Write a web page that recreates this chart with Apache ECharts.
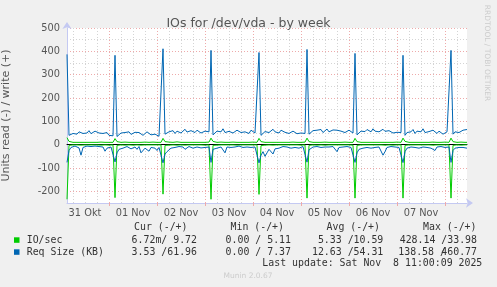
<!DOCTYPE html>
<html><head><meta charset="utf-8">
<script src="https://cdn.jsdelivr.net/npm/echarts@6/dist/echarts.min.js"></script>
<style>html,body{margin:0;padding:0;background:#f0f0f0}#c{width:497px;height:287px}</style>
</head><body><div id="c"></div>
<script>
// x axis: hourly samples starting Oct 31 03:00, index 0..200
const dayLabels = ['31 Okt','01 Nov','02 Nov','03 Nov','04 Nov','05 Nov','06 Nov','07 Nov'];
const yTicks = [-200,-100,0,100,200,300,400,500];

// IO/sec write (+)
const ioWrite = [
30,14,10,10,11,10,10,10,11,10,10,10,11,10,10,10,10,11,10,10,10,10,11,10,
26,13,10,10,10,11,10,10,10,10,11,10,10,10,10,11,10,10,10,11,10,10,10,10,
27,13,10,11,10,10,10,12,10,10,10,10,11,10,10,10,10,10,11,10,10,10,10,11,
28,14,10,10,10,11,10,10,10,10,10,11,10,10,10,10,11,10,10,10,10,11,10,10,
27,13,11,10,10,10,11,10,10,10,10,10,11,10,10,10,10,11,10,10,10,10,10,11,
28,13,10,10,11,10,10,10,10,11,10,10,10,10,11,10,10,10,10,11,10,10,10,10,
27,13,10,10,10,10,11,10,10,10,11,10,10,10,10,10,11,10,10,10,10,11,10,10,
28,14,10,10,11,10,10,10,10,10,11,10,10,10,10,11,10,10,10,10,10,11,10,10,
28,13,10,10,10,11,10,10,10];
// IO/sec read (-), magnitudes
const ioRead = [
234,3,2,1,2,1,1,2,1,1,2,1,1,1,2,1,1,2,1,1,1,2,1,1,
227,3,2,1,1,2,1,1,1,2,1,1,1,2,1,1,2,1,1,1,2,1,1,1,
212,3,2,2,1,1,1,2,1,1,1,2,1,1,1,1,2,1,1,1,1,2,1,1,
234,3,1,2,1,1,2,1,1,1,2,1,1,2,1,1,1,1,2,1,1,1,2,1,
213,4,3,2,2,1,1,2,1,1,1,1,2,1,1,1,2,1,1,1,1,2,1,1,
229,3,2,1,1,2,1,1,1,2,1,1,1,1,2,1,1,1,2,1,1,1,1,2,
229,3,2,1,2,1,1,1,2,1,1,1,2,1,3,2,1,1,1,2,1,1,1,1,
229,3,2,1,1,1,2,1,1,1,2,1,1,1,1,2,1,1,1,1,2,1,1,1,
229,3,2,1,1,2,1,1,1];
// Req Size (KB) write (+)
const reqWrite = [
387,40,35,48,50,45,55,52,48,56,50,60,47,52,58,62,50,55,48,45,52,40,42,38,
383,35,38,50,46,52,48,55,44,50,53,47,52,45,40,48,55,50,42,38,45,40,36,42,
411,45,38,55,52,60,48,58,62,50,55,66,54,48,60,57,52,62,55,50,45,58,62,55,
404,42,50,58,62,55,68,52,60,57,64,50,55,62,58,52,60,55,50,48,62,56,50,45,
395,40,48,56,62,52,58,66,55,60,50,62,57,53,60,48,55,58,52,47,55,50,45,48,
408,45,52,60,55,62,58,65,52,60,67,55,60,63,57,62,55,58,60,52,56,62,55,50,
391,42,50,58,62,56,65,60,55,68,58,62,55,60,66,57,52,60,55,50,58,53,48,52,
383,40,52,60,55,65,48,58,62,55,68,52,60,56,50,62,55,48,58,52,45,50,55,48,
404,45,55,60,52,58,62,55,65];
// Req Size (KB) read (-), magnitudes
const reqRead = [
76,25,12,8,6,10,14,45,12,8,6,10,8,12,6,10,8,14,10,28,15,8,10,12,
74,35,20,12,15,10,8,12,18,14,10,20,8,35,30,15,22,28,12,10,15,25,12,18,
78,40,30,22,15,18,12,10,8,15,10,20,12,8,10,15,12,10,8,14,10,12,8,10,
76,20,12,15,8,10,12,35,10,8,12,15,10,8,6,10,12,8,10,15,12,8,10,12,
78,45,30,50,35,20,28,40,18,12,15,10,8,12,10,8,15,10,12,20,15,10,8,12,
75,22,15,10,12,8,10,12,8,10,15,10,12,8,10,30,12,8,10,12,8,10,12,10,
76,35,20,12,15,10,12,8,15,10,12,8,10,15,45,30,12,10,8,12,10,15,12,8,
77,30,15,12,10,8,12,10,15,12,10,8,12,10,15,12,25,10,12,8,10,12,15,10,
76,25,15,10,12,8,12,10,15];

const cats = ioWrite.map((_, i) => String(i));
const GREEN = '#00cc00', BLUE = '#0066b3';
const MINOR = '#d4d4d4', MAJOR = '#eeaaaa', AXIS = '#c4c9f2';
const FONT = 'DejaVu Sans', MONO = 'DejaVu Sans Mono';

const chart = echarts.init(document.getElementById('c'), null, {renderer: 'canvas'});
const baseX = {type: 'category', data: cats, boundaryGap: false, position: 'bottom', gridIndex: 0};
const neg = a => a.map(v => -v);
const lineS = (name, data, color) => ({
  name, type: 'line', data, showSymbol: false, symbol: 'none', silent: true,
  lineStyle: {color, width: 1}, itemStyle: {color}, animation: false, z: 3
});
const txt = (text, x, y, align, opt) => Object.assign({
  type: 'text', x, y, silent: true,
  style: {text, fill: '#333', font: '9.9px ' + MONO, align, verticalAlign: 'middle'}
}, opt || {});

chart.setOption({
  backgroundColor: '#f0f0f0',
  animation: false,
  title: {text: 'IOs for /dev/vda - by week', left: 'center', top: 12,
    textStyle: {fontFamily: FONT, fontSize: 12.5, fontWeight: 'normal', color: '#555'}},
  grid: {left: 67, right: 30, top: 28, bottom: 84, show: true, backgroundColor: '#ffffff', borderWidth: 0,
    containLabel: false, outerBoundsMode: 'none'},
  xAxis: [
    Object.assign({}, baseX, {
      axisLine: {onZero: false, lineStyle: {color: AXIS, width: 1}, symbol: ['none', 'arrow'], symbolSize: [7, 7], symbolOffset: [0, 6]},
      axisTick: {show: false},
      axisLabel: {interval: (i) => (i + 3) % 24 === 12, margin: 5, fontFamily: FONT, fontSize: 9.8, color: '#555',
        formatter: (v, i) => dayLabels[Math.round((+v + 3 - 12) / 24)] || ''},
      splitLine: {show: true, interval: (i) => (i + 3) % 6 === 0 && (i + 3) % 24 !== 0,
        lineStyle: {color: MINOR, type: [1, 2], width: 1}}
    }),
    Object.assign({}, baseX, {
      axisLine: {show: false, onZero: false},
      axisTick: {show: true, interval: (i) => (i + 3) % 24 === 0, length: 3, lineStyle: {color: MAJOR}},
      axisLabel: {show: false},
      splitLine: {show: true, interval: (i) => (i + 3) % 24 === 0,
        lineStyle: {color: MAJOR, type: [1, 2], width: 1}}
    }),
    Object.assign({}, baseX, {
      axisLine: {show: true, onZero: true, lineStyle: {color: '#000', width: 1}},
      axisTick: {show: false}, axisLabel: {show: false}, splitLine: {show: false}
    })
  ],
  yAxis: [{
    type: 'value', min: -250, max: 500, interval: 50,
    name: 'Units read (-) / write (+)', nameLocation: 'middle', nameGap: 55, nameRotate: 90,
    nameTextStyle: {fontFamily: FONT, fontSize: 11, color: '#555'},
    axisLine: {show: true, onZero: false, lineStyle: {color: AXIS, width: 1}, symbol: ['none', 'arrow'], symbolSize: [7, 7], symbolOffset: [0, 6]},
    axisTick: {show: false},
    axisLabel: {margin: 7, fontFamily: FONT, fontSize: 9.8, color: '#555',
      formatter: v => yTicks.indexOf(v) >= 0 ? String(v) : ''},
    splitLine: {show: true, lineStyle: {color: [MINOR, MAJOR], type: [1, 2], width: 1}}
  }],
  series: [
    lineS('IO/sec', neg(ioRead), GREEN),
    lineS('IO/sec', ioWrite, GREEN),
    lineS('Req Size (KB)', neg(reqRead), BLUE),
    lineS('Req Size (KB)', reqWrite, BLUE)
  ],
  graphic: [
    {type: 'text', x: 487, y: 53, rotation: -Math.PI / 2, silent: true,
      style: {text: 'RRDTOOL / TOBI OETIKER', fill: '#cccccc', font: '7.5px ' + FONT, align: 'center', verticalAlign: 'middle'}},
    txt('Cur (-/+)', 187.5, 227, 'right'),
    txt('Min (-/+)', 284, 227, 'right'),
    txt('Avg (-/+)', 380, 227, 'right'),
    txt('Max (-/+)', 476.5, 227, 'right'),
    {type: 'rect', shape: {x: 14, y: 237.3, width: 5.5, height: 5.5}, style: {fill: GREEN}, silent: true},
    txt('IO/sec', 26.7, 240, 'left'),
    txt('6.72m/ 9.72', 197, 240, 'right'),
    txt('0.00 / 5.11', 291, 240, 'right'),
    txt('5.33 /10.59', 383.3, 240, 'right'),
    txt('428.14 /33.98', 477, 240, 'right'),
    {type: 'rect', shape: {x: 14, y: 249.3, width: 5.5, height: 5.5}, style: {fill: BLUE}, silent: true},
    txt('Req Size (KB)', 26.7, 252, 'left'),
    txt('3.53 /61.96', 197, 252, 'right'),
    txt('0.00 / 7.37', 291, 252, 'right'),
    txt('12.63 /54.31', 383.3, 252, 'right'),
    txt('138.58 /', 398.3, 252, 'left'),
    txt('460.77', 477, 252, 'right'),
    txt('Last update: Sat Nov  8 11:00:09 2025', 482.3, 263.5, 'right'),
    {type: 'text', x: 248, y: 276, silent: true,
      style: {text: 'Munin 2.0.67', fill: '#cccccc', font: '7.5px ' + FONT, align: 'center', verticalAlign: 'middle'}}
  ]
});
</script></body></html>
